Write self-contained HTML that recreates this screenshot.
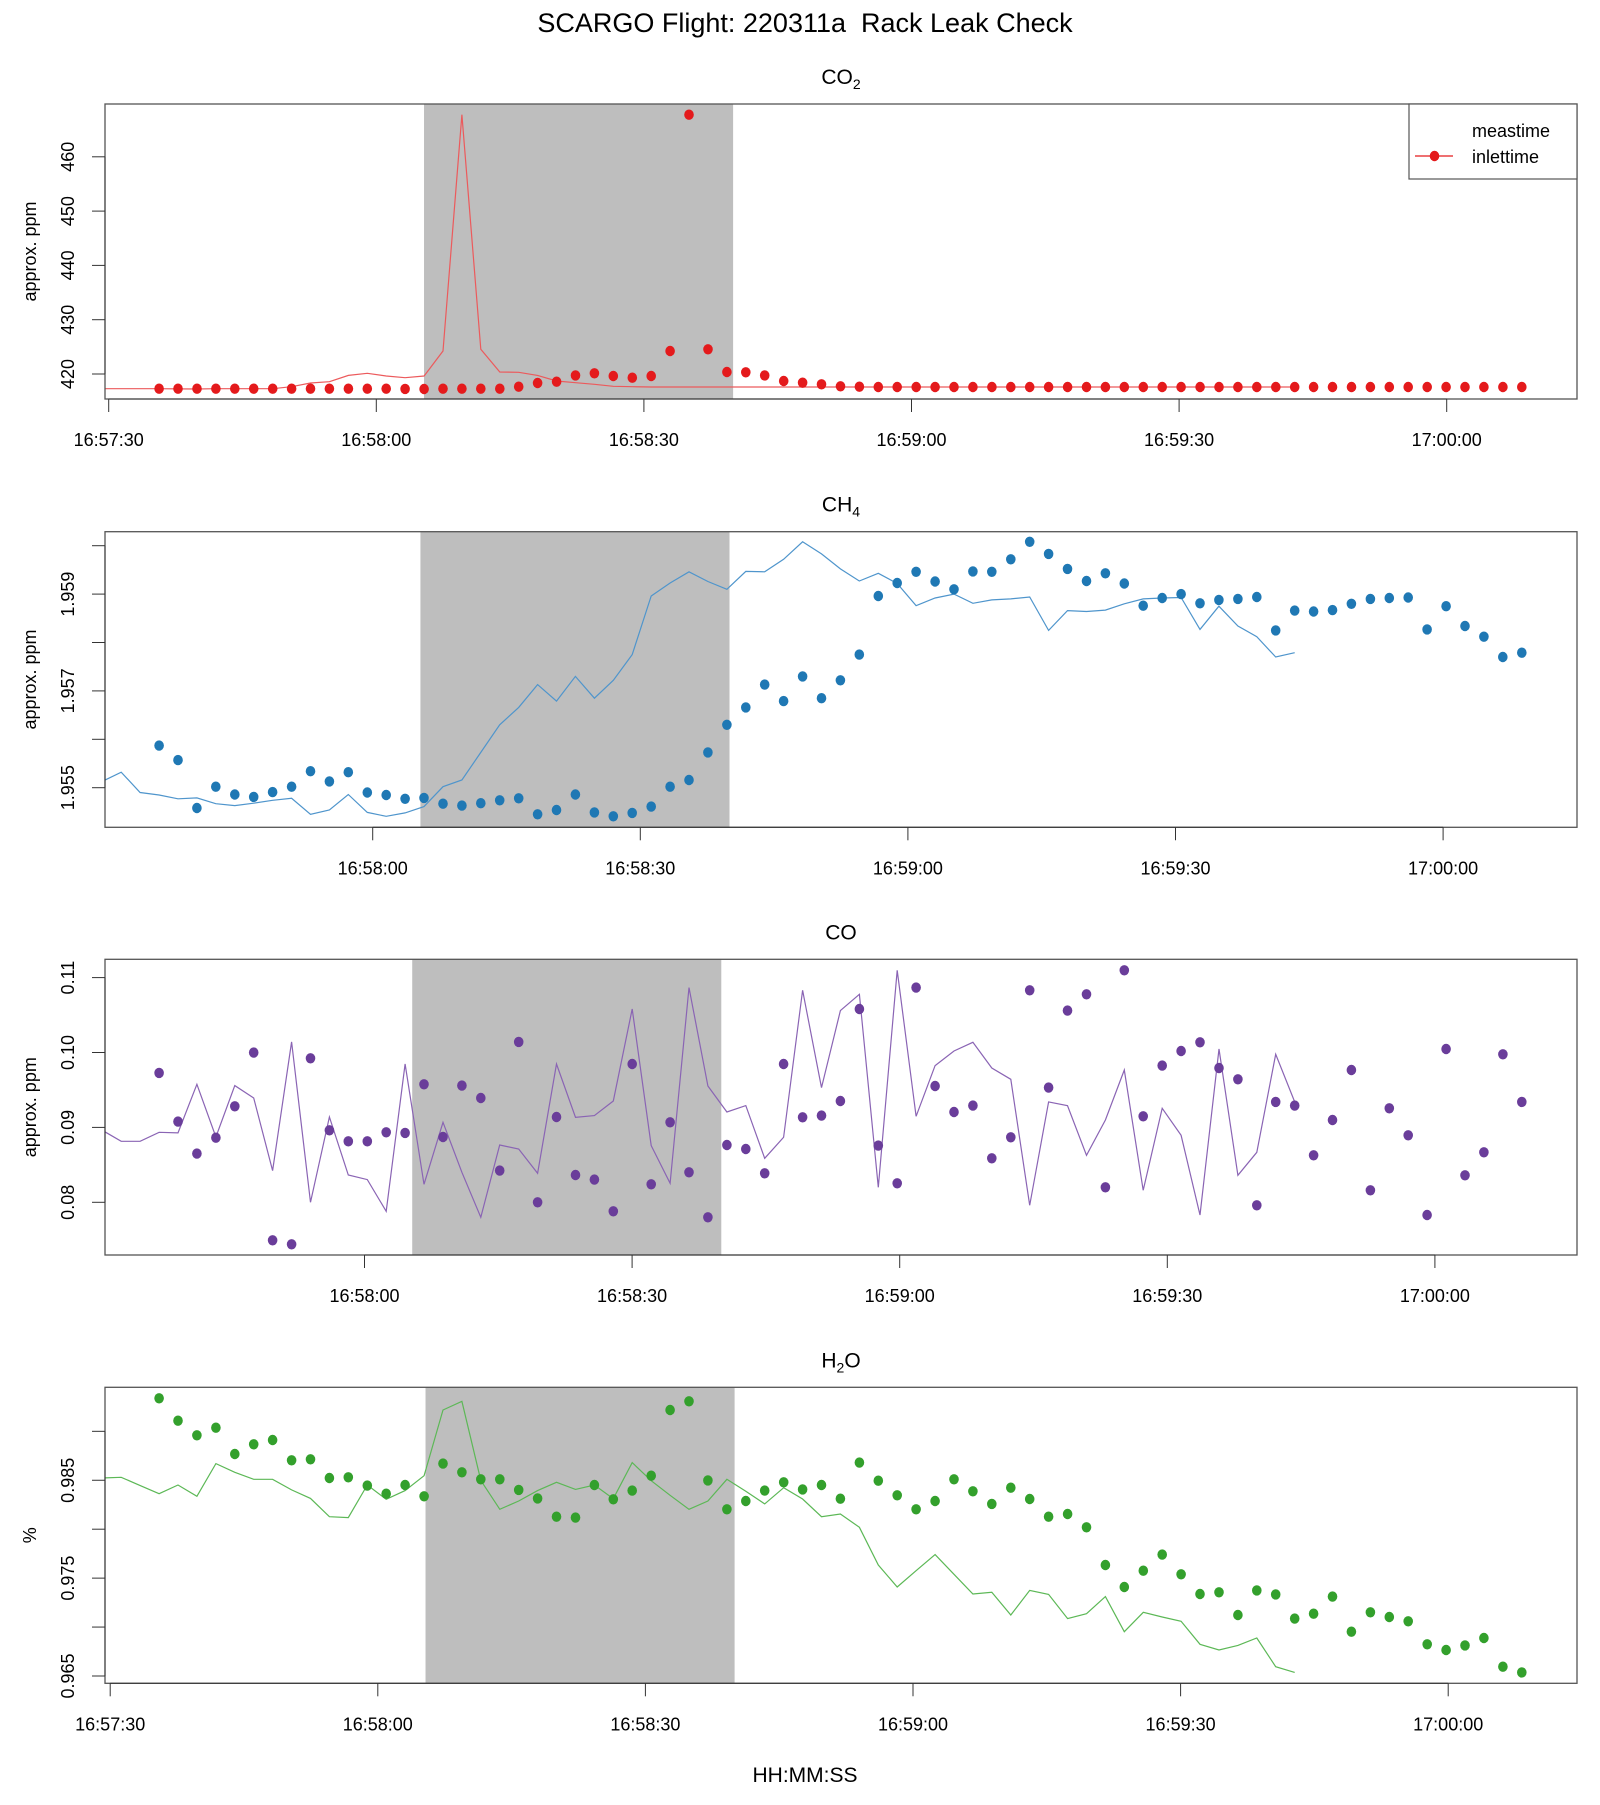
<!DOCTYPE html>
<html><head><meta charset="utf-8"><title>SCARGO Flight: 220311a Rack Leak Check</title>
<style>
html,body{margin:0;padding:0;background:#fff;}
svg text{font-family:"Liberation Sans",Arial,sans-serif;fill:#000;}
</style></head>
<body>
<svg id="chart" xmlns="http://www.w3.org/2000/svg" width="1600" height="1800" viewBox="0 0 1600 1800">
<rect x="0" y="0" width="1600" height="1800" fill="#fff"/>
<text x="805" y="32" font-size="27" text-anchor="middle">SCARGO Flight: 220311a&#160; Rack Leak Check</text>
<text x="805" y="1782" font-size="21" text-anchor="middle">HH:MM:SS</text>
</svg>
<script>
// ---- data ----
const xTickSeconds = [0, 30, 60, 90, 120, 150];
const xTickLabels = ["16:57:30", "16:58:00", "16:58:30", "16:59:00", "16:59:30", "17:00:00"];
const co2Vals = [417.3,417.3,417.3,417.3,417.3,417.3,417.3,417.3,417.3,417.3,417.3,417.3,417.3,417.25,417.24,417.3,417.3,417.3,417.3,417.67,418.34,418.59,419.75,420.12,419.63,419.32,419.63,424.24,467.76,424.54,420.37,420.31,419.75,418.71,418.4,418.1,417.73,417.67,417.6,417.6,417.6,417.6,417.6,417.6,417.6,417.6,417.6,417.6,417.6,417.6,417.6,417.6,417.6,417.6,417.6,417.6,417.6,417.6,417.6,417.6,417.6,417.6,417.6,417.6,417.6,417.6,417.6,417.6,417.6,417.6,417.6,417.6,417.6];
const ch4Vals = [1.95587,1.95557,1.95458,1.95502,1.95486,1.95481,1.95491,1.95502,1.95534,1.95513,1.95532,1.95490,1.95485,1.95477,1.95479,1.95467,1.95463,1.95468,1.95474,1.95478,1.95445,1.95454,1.95486,1.95449,1.95441,1.95448,1.95461,1.95502,1.95516,1.95573,1.95630,1.95666,1.95713,1.95679,1.95730,1.95685,1.95722,1.95775,1.95896,1.95923,1.95946,1.95926,1.95910,1.95947,1.95946,1.95972,1.96008,1.95983,1.95952,1.95927,1.95943,1.95922,1.95876,1.95892,1.95900,1.95881,1.95888,1.95890,1.95894,1.95825,1.95866,1.95864,1.95867,1.95880,1.95890,1.95892,1.95893,1.95827,1.95875,1.95834,1.95812,1.95770,1.95779];
const coVals = [0.09727,0.09077,0.08650,0.08863,0.09282,0.09998,0.07493,0.07439,0.09923,0.08961,0.08814,0.08814,0.08935,0.08926,0.09575,0.08872,0.09558,0.09393,0.08423,0.10141,0.08000,0.09139,0.08365,0.08303,0.07880,0.09847,0.08240,0.09068,0.08401,0.07800,0.08765,0.08712,0.08387,0.09847,0.09135,0.09157,0.09353,0.10581,0.08757,0.08254,0.10866,0.09553,0.09206,0.09291,0.08587,0.08868,0.10830,0.09531,0.10559,0.10777,0.08200,0.11097,0.09148,0.09825,0.10020,0.10136,0.09793,0.09642,0.07960,0.09340,0.09291,0.08627,0.09099,0.09767,0.08160,0.09255,0.08895,0.07831,0.10047,0.08360,0.08668,0.09976,0.09340];
const h2oVals = [0.99337,0.99109,0.98959,0.99037,0.98768,0.98867,0.98911,0.98704,0.98714,0.98523,0.98530,0.98445,0.98363,0.98452,0.98336,0.98670,0.98581,0.98510,0.98510,0.98401,0.98315,0.98128,0.98118,0.98452,0.98305,0.98394,0.98547,0.99218,0.99307,0.98499,0.98203,0.98288,0.98394,0.98479,0.98407,0.98452,0.98312,0.98680,0.98496,0.98346,0.98203,0.98288,0.98510,0.98387,0.98258,0.98424,0.98309,0.98128,0.98155,0.98019,0.97634,0.97409,0.97576,0.97740,0.97539,0.97338,0.97355,0.97123,0.97375,0.97334,0.97086,0.97137,0.97311,0.96953,0.97151,0.97103,0.97059,0.96824,0.96766,0.96813,0.96888,0.96595,0.96537];
const co2YTicks = [420, 430, 440, 450, 460];
const co2YLabels = ["420", "430", "440", "450", "460"];
const ch4YTicks = [1.955, 1.956, 1.957, 1.958, 1.959, 1.960];
const ch4YLabels = ["1.955", "", "1.957", "", "1.959", ""];
const coYTicks = [0.08, 0.09, 0.10, 0.11];
const coYLabels = ["0.08", "0.09", "0.10", "0.11"];
const h2oYTicks = [0.965, 0.970, 0.975, 0.980, 0.985, 0.990];
const h2oYLabels = ["0.965", "", "0.975", "", "0.985", ""];
const leakStart = 35.35, leakEnd = 70.0;   // seconds after 16:57:30
const sampleInterval = 2.1218;             // seconds
const lagSamples = 12;

// ---- layout ----
const NS = "http://www.w3.org/2000/svg";
const svg = document.getElementById("chart");
const BOX_L = 105, BOX_R = 1577, PX_PER_S = 8.92;
const panels = [
  {key:"co2", sub:"2", base:"CO", vals:co2Vals, color:"#e41a1c", lineColor:"#ec5a5c", top:104, bottom:399, x0:376.3, dotT0:5.65, vRef:420, yRef:374, ppu:5.43, yt:co2YTicks, yl:co2YLabels, ytitle:"approx. ppm", xt:[0,1,2,3,4,5], legend:true},
  {key:"ch4", sub:"4", base:"CH", vals:ch4Vals, color:"#1f78b4", lineColor:"#4f95cc", top:531.7, bottom:827.3, x0:372.7, dotT0:6.05, vRef:1.955, yRef:787.7, ppu:48400, yt:ch4YTicks, yl:ch4YLabels, ytitle:"approx. ppm", xt:[1,2,3,4,5]},
  {key:"co", sub:"", base:"CO", vals:coVals, color:"#6a3d9a", lineColor:"#8a64b4", top:959.3, bottom:1255, x0:364.5, dotT0:6.97, vRef:0.08, yRef:1202.3, ppu:7490, yt:coYTicks, yl:coYLabels, ytitle:"approx. ppm", xt:[1,2,3,4,5]},
  {key:"h2o", sub:"2", base:"H", after:"O", vals:h2oVals, color:"#33a02c", lineColor:"#5cb856", top:1387.3, bottom:1683.3, x0:377.8, dotT0:5.48, vRef:0.965, yRef:1676, ppu:9787, yt:h2oYTicks, yl:h2oYLabels, ytitle:"%", xt:[0,1,2,3,4,5]}
];

function mk(tag, attrs, parent) {
  const e = document.createElementNS(NS, tag);
  for (const k in attrs) e.setAttribute(k, attrs[k]);
  (parent || svg).appendChild(e);
  return e;
}

panels.forEach(function(p) {
  const xs = function(s) { return p.x0 + (s - 30) * PX_PER_S; };
  const ys = function(v) { return p.yRef - (v - p.vRef) * p.ppu; };
  const g = mk("g", {});
  
  

  const clip = mk("clipPath", {id: "clip-" + p.key}, g);
  mk("rect", {x: BOX_L, y: p.top, width: BOX_R - BOX_L, height: p.bottom - p.top}, clip);

  const band = mk("rect", {x: xs(leakStart), y: p.top, width: xs(leakEnd) - xs(leakStart), height: p.bottom - p.top, fill: "#bebebe"}, g);
  
  

  let d = "";
  p.vals.forEach(function(v, i) {
    const t = p.dotT0 + i * sampleInterval - lagSamples * sampleInterval;
    d += (i ? "L" : "M") + xs(t).toFixed(1) + "," + ys(v).toFixed(1);
  });
  const line = mk("path", {d: d, fill: "none", stroke: p.lineColor, "stroke-width": 1.2, "clip-path": "url(#clip-" + p.key + ")"}, g);
  
  

  p.vals.forEach(function(v, i) {
    const t = p.dotT0 + i * sampleInterval;
    const c = mk("ellipse", {cx: xs(t).toFixed(1), cy: ys(v).toFixed(1), rx: 4.8, ry: 5.2, fill: p.color}, g);
    
    
  });

  const box = mk("rect", {x: BOX_L, y: p.top, width: BOX_R - BOX_L, height: p.bottom - p.top, fill: "none", stroke: "#555", "stroke-width": 1.3}, g);
  
  

  const xa = mk("g", {}, g);
  
  
  const firstX = xs(xTickSeconds[p.xt[0]]), lastX = xs(xTickSeconds[p.xt[p.xt.length - 1]]);
  mk("line", {x1: firstX, y1: p.bottom, x2: lastX, y2: p.bottom, stroke: "#333", "stroke-width": 1}, xa);
  p.xt.forEach(function(k) {
    const x = xs(xTickSeconds[k]);
    mk("line", {x1: x, y1: p.bottom, x2: x, y2: p.bottom + 13, stroke: "#333", "stroke-width": 1}, xa);
    const tx = mk("text", {x: x, y: p.bottom + 47, "font-size": 18, "text-anchor": "middle"}, xa);
    tx.textContent = xTickLabels[k];
    
    
  });

  const ya = mk("g", {}, g);
  
  
  mk("line", {x1: BOX_L, y1: ys(p.yt[0]), x2: BOX_L, y2: ys(p.yt[p.yt.length - 1]), stroke: "#333", "stroke-width": 1}, ya);
  p.yt.forEach(function(v, i) {
    const y = ys(v);
    mk("line", {x1: BOX_L, y1: y, x2: BOX_L - 13, y2: y, stroke: "#333", "stroke-width": 1}, ya);
    if (p.yl[i]) {
      const tx = mk("text", {x: 0, y: 0, "font-size": 18, "text-anchor": "middle", transform: "translate(74," + y.toFixed(1) + ") rotate(-90)"}, ya);
      tx.textContent = p.yl[i];
      
      
    }
  });
  const yt = mk("text", {x: 0, y: 0, "font-size": 18, "text-anchor": "middle", transform: "translate(36," + ((p.top + p.bottom) / 2).toFixed(1) + ") rotate(-90)"}, g);
  yt.textContent = p.ytitle;
  
  

  const pt = mk("text", {x: (BOX_L + BOX_R) / 2, y: p.top - 20, "font-size": 21, "text-anchor": "middle"}, g);
  
  
  pt.appendChild(document.createTextNode(p.base));
  if (p.sub) {
    const ts = mk("tspan", {"font-size": 14, dy: 5}, pt);
    ts.textContent = p.sub;
    if (p.after) {
      const ta = mk("tspan", {dy: -5}, pt);
      ta.textContent = p.after;
    }
  }

  if (p.legend) {
    const lg = mk("g", {}, g);
    
    
    mk("rect", {x: 1409, y: 104, width: 168, height: 75, fill: "#fff", stroke: "#555", "stroke-width": 1.2}, lg);
    const t1 = mk("text", {x: 1472, y: 137, "font-size": 18}, lg);
    t1.textContent = "meastime";
    
    
    mk("line", {x1: 1415, y1: 156, x2: 1453, y2: 156, stroke: p.color, "stroke-width": 1.2}, lg);
    mk("ellipse", {cx: 1434.5, cy: 156, rx: 4.8, ry: 5.2, fill: p.color}, lg);
    const t2 = mk("text", {x: 1472, y: 163, "font-size": 18}, lg);
    t2.textContent = "inlettime";
    
    
  }
});
</script>
</body></html>
